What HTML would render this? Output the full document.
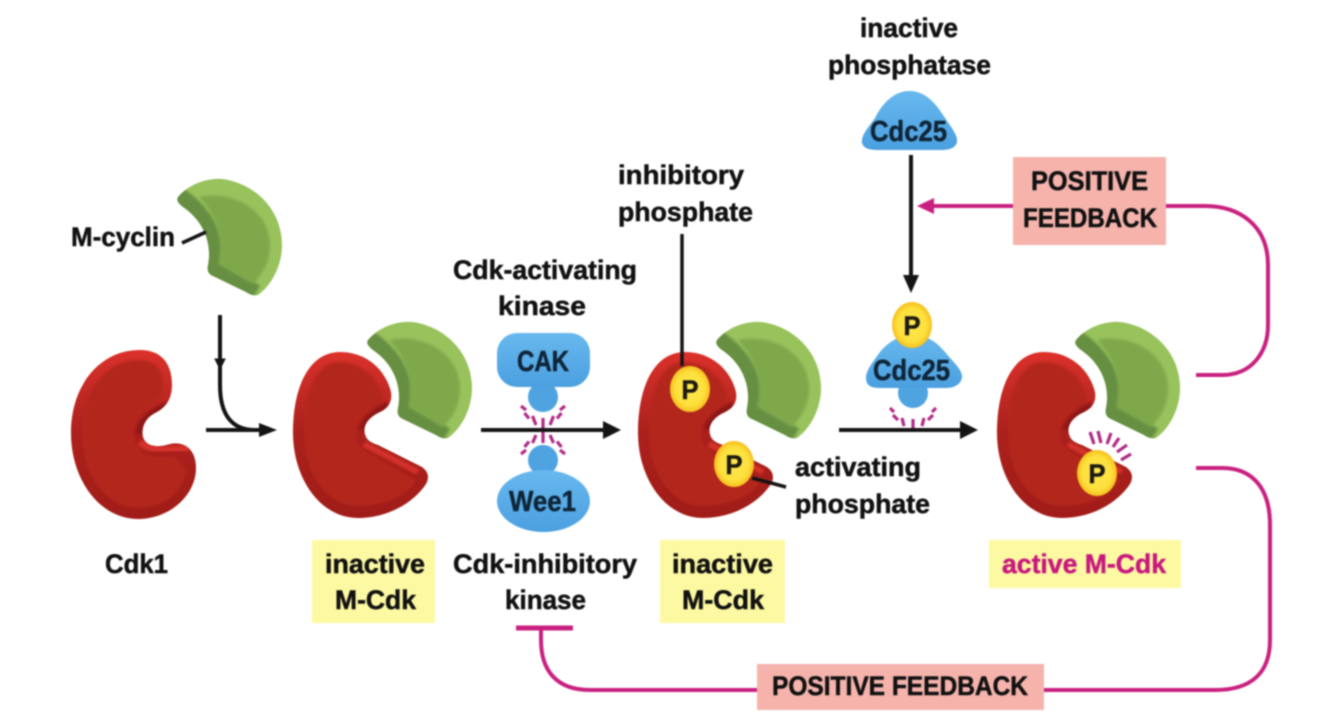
<!DOCTYPE html>
<html><head><meta charset="utf-8"><style>
html,body{margin:0;padding:0;background:#fff;width:1318px;height:718px;overflow:hidden}
svg{display:block;filter:blur(.7px)}
text{font-family:"Liberation Sans",sans-serif;font-weight:bold;font-size:27px;fill:#111;stroke:#111;stroke-width:.5px}
.n{fill:#0f2538;stroke:#0f2538;font-size:29px}
.m{stroke:#c9207f;stroke-width:4;fill:none}
.k{stroke:#141414;stroke-width:4;fill:none}
.r line{stroke:#b02a85;stroke-width:3.200}
</style></head><body>
<svg width="1318" height="718" viewBox="0 0 1318 718" xmlns="http://www.w3.org/2000/svg">
<defs>
<filter id="s" x="-20%" y="-20%" width="140%" height="140%"><feGaussianBlur stdDeviation="1.200"/></filter>
<linearGradient id="rg" x1="0" y1="0" x2="0" y2="1"><stop offset="0" stop-color="#dc302a"/><stop offset=".2" stop-color="#c62b25"/><stop offset=".5" stop-color="#ab201c"/><stop offset="1" stop-color="#a01c18"/></linearGradient>
<linearGradient id="bg" x1="0" y1="0" x2="0" y2="1"><stop offset="0" stop-color="#68b8ee"/><stop offset="1" stop-color="#4a9fdf"/></linearGradient>
<radialGradient id="yg"><stop offset="0" stop-color="#fee74f"/><stop offset=".72" stop-color="#fde03c"/><stop offset="1" stop-color="#f6bf1f"/></radialGradient>
<clipPath id="gc"><path d="M178 197C190 183 208 178 222 179C255 183 282 210 282 245C282 265 272 285 258 295C255 296 250 295 246 292L213 276C208 274 207 270 208 265C212 245 205 222 183 207C178 203 176 200 178 197Z"/></clipPath>
<clipPath id="c1"><path d="M140 350C160 350 172 362 172 385C172 400 165 408 155 413C145 418 141 428 143 437C146 447 158 448 170 444C185 441 196 450 196 468C196 495 170 519 138 519C100 519 71 480 71 433C71 385 100 350 140 350Z"/></clipPath>
<clipPath id="c2"><path d="M340 352C365 352 385 368 391 392C393 405 385 410 376 414C366 420 362 428 366 437C368 441 372 443 378 445L420 466C428 470 430 477 426 484C412 505 385 518 358 518C320 518 293 478 293 433C293 385 310 352 340 352Z"/></clipPath>
<g id="green">
<path d="M178 197C190 183 208 178 222 179C255 183 282 210 282 245C282 265 272 285 258 295C255 296 250 295 246 292L213 276C208 274 207 270 208 265C212 245 205 222 183 207C178 203 176 200 178 197Z" fill="#98c25c"/>
<g clip-path="url(#gc)">
<path d="M176 198C206 218 216 245 210 270L254 296" fill="none" stroke="#668f42" stroke-width="24" filter="url(#s)"/>
<path d="M199 197C230 190 270 208 270 246C270 262 262 275 253 284L218 264C224 240 216 214 199 197Z" fill="#7fa84c" filter="url(#s)"/>
</g>
</g>
<path id="cdk" d="M140 350C160 350 172 362 172 385C172 400 165 408 155 413C145 418 141 428 143 437C146 447 158 448 170 444C185 441 196 450 196 468C196 495 170 519 138 519C100 519 71 480 71 433C71 385 100 350 140 350Z"/>
<path id="red2" d="M340 352C365 352 385 368 391 392C393 405 385 410 376 414C366 420 362 428 366 437C368 441 372 443 378 445L420 466C428 470 430 477 426 484C412 505 385 518 358 518C320 518 293 478 293 433C293 385 310 352 340 352Z"/>
<g id="mcdk">
<use href="#red2" fill="url(#rg)"/>
<g clip-path="url(#c2)">
<path d="M339 362C360 362 377 376 382 396C384 410 372 412 360 420C352 430 354 446 370 454L416 480C410 494 385 506 358 506C326 506 304 472 304 433C304 392 316 362 339 362Z" fill="#b3261f" filter="url(#s)"/>
<path d="M388 405C374 412 364 420 362 430" fill="none" stroke="#8e1714" stroke-width="7" filter="url(#s)"/>
<path d="M364 444L418 472" fill="none" stroke="#d4302a" stroke-width="6" filter="url(#s)"/>
</g>
</g>
<g id="p"><ellipse cx="0" cy="0" rx="20" ry="23" fill="url(#yg)"/><text x="0" y="10" text-anchor="middle" textLength="17" lengthAdjust="spacingAndGlyphs" style="fill:#1d1a10;stroke:#1d1a10">P</text></g>
</defs>
<rect width="1318" height="718" fill="#fff"/>

<!-- boxes -->
<rect x="312" y="540" width="123" height="83" fill="#fdf9a2"/>
<rect x="660" y="540" width="125" height="83" fill="#fdf9a2"/>
<rect x="989" y="540" width="192" height="48" fill="#fdf9a2"/>
<rect x="1013" y="157" width="153" height="88" fill="#f5b3ac"/>
<rect x="757" y="664" width="287" height="46" fill="#f5b3ac"/>

<!-- magenta connectors -->
<path class="m" d="M1196 375H1222C1252 375 1268 352 1268 325V265C1268 226 1240 206 1205 206H1166"/>
<path class="m" d="M1013 206H930"/>
<path d="M917 206L934 198V214Z" fill="#c9207f"/>
<path class="m" d="M1196 468H1222C1254 468 1270 490 1270 525V640C1270 674 1250 690 1215 690H1044"/>
<path class="m" d="M757 690H590C556 690 541 670 541 640V628"/>
<path d="M516 628H573" stroke="#c9207f" stroke-width="5" fill="none"/>

<!-- molecules -->
<use href="#green"/>
<use href="#cdk" fill="url(#rg)"/>
<g clip-path="url(#c1)">
<path d="M139 360C155 360 163 370 163 385C163 396 157 402 148 407C132 416 128 440 142 452C152 460 164 456 174 456L186 468C186 490 165 508 138 508C106 508 82 474 82 433C82 390 106 360 139 360Z" fill="#b3261f" filter="url(#s)"/>
<path d="M168 405C150 412 140 422 139 434" fill="none" stroke="#8e1714" stroke-width="7" filter="url(#s)"/>
<path d="M140 442C150 452 165 450 190 448" fill="none" stroke="#d4302a" stroke-width="7" filter="url(#s)"/>
</g>

<use href="#green" x="190" y="143"/>
<use href="#mcdk"/>
<use href="#green" x="539" y="143"/>
<use href="#mcdk" x="345"/>
<use href="#green" x="898" y="143"/>
<use href="#mcdk" x="704"/>

<!-- CAK / Wee1 -->
<circle cx="543" cy="397" r="15" fill="#4ea3e0"/>
<rect x="497" y="333" width="93" height="54" rx="20" fill="url(#bg)"/>
<circle cx="543" cy="460" r="15" fill="#4ea3e0"/>
<ellipse cx="543.500" cy="501" rx="46.500" ry="31" fill="url(#bg)"/>
<text x="517" y="371" class="n" textLength="52" lengthAdjust="spacingAndGlyphs">CAK</text>
<text x="509" y="511" class="n" textLength="67" lengthAdjust="spacingAndGlyphs">Wee1</text>
<g class="r">
<line x1="521" y1="406" x2="526" y2="410"/><line x1="524.500" y1="413" x2="529" y2="418.500"/><line x1="532.500" y1="416" x2="536" y2="425"/><line x1="543" y1="418" x2="543" y2="443"/><line x1="553.500" y1="416" x2="550" y2="425"/><line x1="561.500" y1="413" x2="557" y2="418.500"/><line x1="565" y1="406" x2="560" y2="410"/>
<line x1="521" y1="454" x2="526" y2="450"/><line x1="524.500" y1="447" x2="529" y2="441.500"/><line x1="532.500" y1="443" x2="536" y2="435"/><line x1="553.500" y1="443" x2="550" y2="435"/><line x1="561.500" y1="447" x2="557" y2="441.500"/><line x1="565" y1="454" x2="560" y2="450"/>
</g>

<!-- Cdc25 -->
<path d="M909 91C925 91 935 102 945 118C952 128 958 136 957 142C955 149 948 150 940 150H880C870 150 864 149 862 143C861 135 868 128 875 118C883 102 895 91 909 91Z" fill="url(#bg)"/>
<text x="870" y="141" class="n" textLength="77" lengthAdjust="spacingAndGlyphs">Cdc25</text>
<circle cx="913" cy="393" r="15" fill="#4ea3e0"/>
<path d="M912 335C925 335 935 340 945 352C953 362 963 370 962 378C960 386 952 388 945 388H880C872 388 866 386 866 378C866 370 873 362 880 352C888 342 900 335 912 335Z" fill="url(#bg)"/>
<text x="873" y="380" class="n" textLength="77" lengthAdjust="spacingAndGlyphs">Cdc25</text>
<use href="#p" transform="translate(912 325)"/>
<g class="r">
<line x1="890" y1="408" x2="894" y2="412"/><line x1="893" y1="415" x2="898" y2="420"/><line x1="902" y1="418" x2="904" y2="426"/><line x1="913" y1="419" x2="913" y2="428"/><line x1="924" y1="418" x2="922" y2="426"/><line x1="933" y1="415" x2="928" y2="420"/><line x1="936" y1="408" x2="932" y2="412"/>
</g>

<!-- black connectors -->
<path class="k" d="M220 315V385C220 415 232 430 255 430"/>
<path d="M215 359H225L220 369Z" fill="#141414" stroke="#141414" stroke-width="1"/>
<path class="k" d="M206 430H262"/>
<path d="M277 430L259 423V437Z" fill="#141414"/>
<path class="k" d="M481 430H610"/>
<path d="M621 430L603 421V439Z" fill="#141414"/>
<path class="k" d="M839 430H965"/>
<path d="M978 430L960 421V439Z" fill="#141414"/>
<path class="k" d="M911 155V280"/>
<path d="M911 293L903 275H919Z" fill="#141414"/>
<path d="M682 234V366" stroke="#141414" stroke-width="3.500" fill="none"/>
<path d="M752 478L786 487" stroke="#141414" stroke-width="3.500" fill="none"/>
<path d="M182 243L206 232" stroke="#141414" stroke-width="3.500" fill="none"/>

<!-- P on M-Cdk -->
<use href="#p" transform="translate(690 389)"/>
<use href="#p" transform="translate(734 464)"/>
<use href="#p" transform="translate(1097 473)"/>
<g class="r">
<line x1="1090" y1="432" x2="1094" y2="444"/>
<line x1="1098" y1="431" x2="1101" y2="443"/>
<line x1="1111" y1="433" x2="1107" y2="444"/>
<line x1="1119" y1="438" x2="1113" y2="447"/>
<line x1="1127" y1="445" x2="1117" y2="452"/>
<line x1="1131" y1="454" x2="1121" y2="460"/>
</g>

<!-- labels -->
<text x="860" y="37" textLength="98" lengthAdjust="spacingAndGlyphs">inactive</text>
<text x="828" y="74" textLength="163" lengthAdjust="spacingAndGlyphs">phosphatase</text>
<text x="618" y="184" textLength="126" lengthAdjust="spacingAndGlyphs">inhibitory</text>
<text x="618" y="221" textLength="135" lengthAdjust="spacingAndGlyphs">phosphate</text>
<text x="71" y="246" textLength="104" lengthAdjust="spacingAndGlyphs">M-cyclin</text>
<text x="453" y="279" textLength="184" lengthAdjust="spacingAndGlyphs">Cdk-activating</text>
<text x="498" y="315" textLength="88" lengthAdjust="spacingAndGlyphs">kinase</text>
<text x="795" y="476" textLength="126" lengthAdjust="spacingAndGlyphs">activating</text>
<text x="795" y="513" textLength="135" lengthAdjust="spacingAndGlyphs">phosphate</text>
<text x="105" y="573" textLength="63" lengthAdjust="spacingAndGlyphs">Cdk1</text>
<text x="325" y="573" textLength="100" lengthAdjust="spacingAndGlyphs">inactive</text>
<text x="335" y="609" textLength="81" lengthAdjust="spacingAndGlyphs">M-Cdk</text>
<text x="453" y="573" textLength="184" lengthAdjust="spacingAndGlyphs">Cdk-inhibitory</text>
<text x="505" y="609" textLength="81" lengthAdjust="spacingAndGlyphs">kinase</text>
<text x="672" y="573" textLength="101" lengthAdjust="spacingAndGlyphs">inactive</text>
<text x="682" y="609" textLength="82" lengthAdjust="spacingAndGlyphs">M-Cdk</text>
<text x="1002" y="573" textLength="164" lengthAdjust="spacingAndGlyphs" style="fill:#c8197f;stroke:#c8197f">active M-Cdk</text>
<text x="1031" y="190" textLength="117" lengthAdjust="spacingAndGlyphs">POSITIVE</text>
<text x="1023" y="227" textLength="134" lengthAdjust="spacingAndGlyphs">FEEDBACK</text>
<text x="772" y="695" textLength="256" lengthAdjust="spacingAndGlyphs">POSITIVE FEEDBACK</text>
</svg>
</body></html>
